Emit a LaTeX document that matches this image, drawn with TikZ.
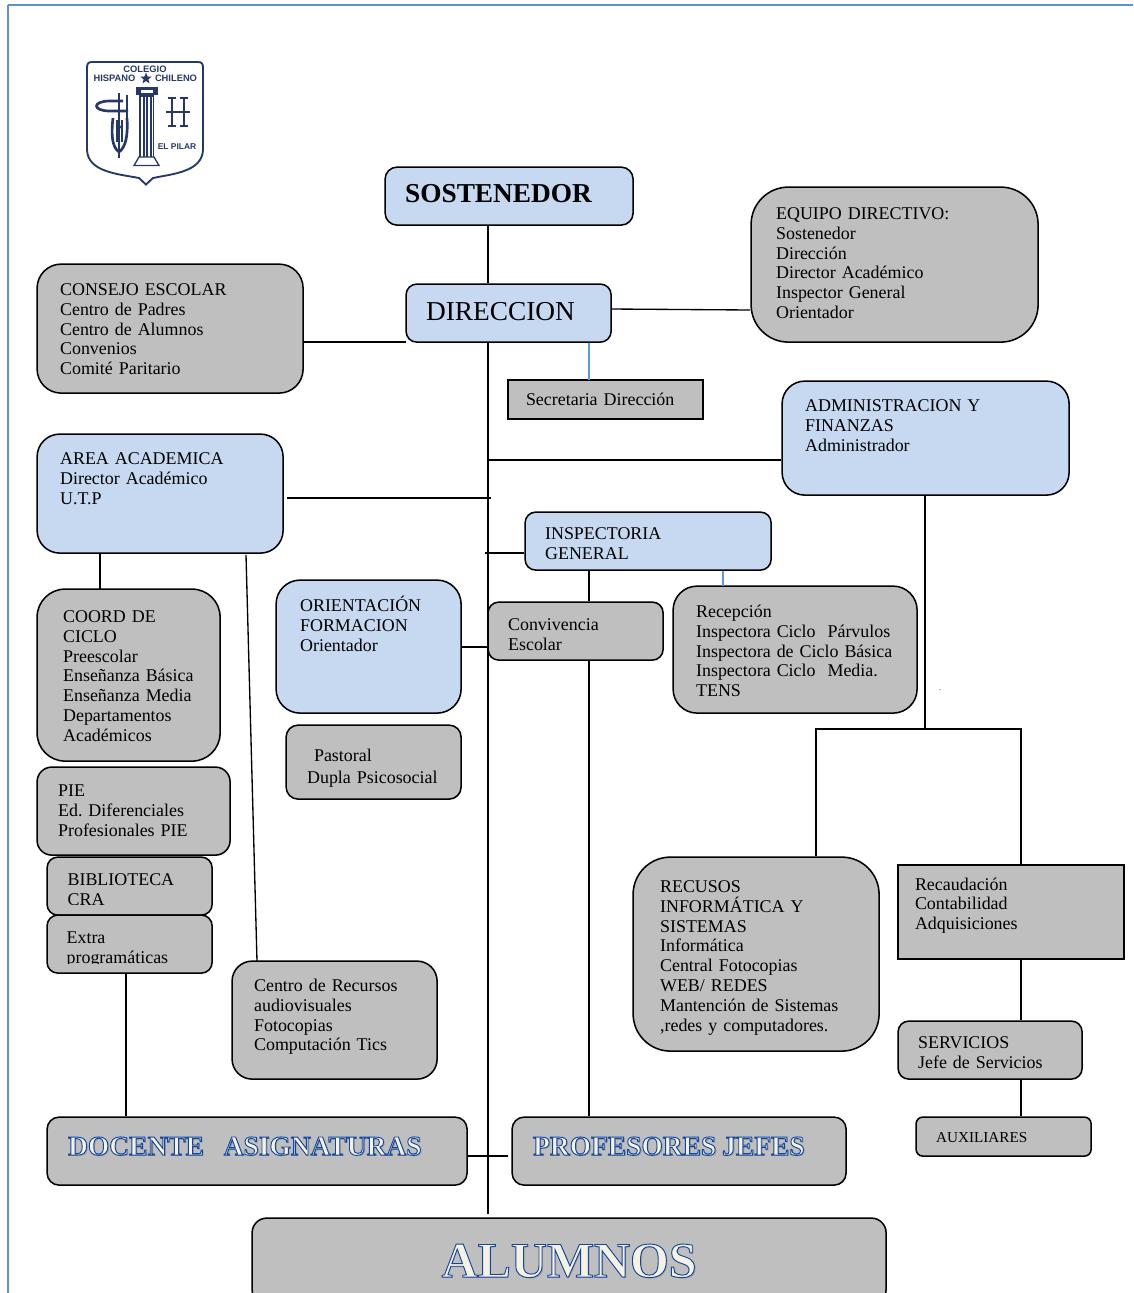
\documentclass[tikz,border=0pt]{standalone}
\usepackage{fontspec}
\setmainfont{Liberation Serif}
\newfontfamily\logofont{Liberation Sans}
\usetikzlibrary{shapes.geometric}
\definecolor{boxblue}{RGB}{198,217,241}
\definecolor{boxgrey}{RGB}{191,191,191}
\definecolor{tiepale}{RGB}{91,155,213}
\definecolor{edgeline}{RGB}{95,145,205}
\definecolor{artfill}{RGB}{245,242,228}
\definecolor{crest}{RGB}{38,56,104}

\tikzset{
  chartbox/.style={draw=black, line width=1.15pt, inner ysep=0pt, align=left, xshift=-0.5pt, yshift=0.5pt, font=\fontsize{13.45}{14.97}\selectfont},
  bluebox/.style={chartbox, fill=boxblue},
  greybox/.style={chartbox, fill=boxgrey},
  cliptext/.style={anchor=north west, inner sep=0pt, align=left, text width=110pt, text height=9pt, xshift=-0.5pt, font=\fontsize{13.45}{14.97}\selectfont},
  crestword/.style={font=\logofont\bfseries\fontsize{7}{8}\selectfont, text=crest, inner sep=0pt},
  tie/.style={line width=1pt, draw=black},
  tiepaler/.style={line width=1pt, draw=tiepale},
  bigword/.style={font=\fontsize{20.5}{24}\selectfont},
  crestline/.style={draw=crest, line width=1pt},
}

% box corners, left edge of the text, first baseline
\newcommand{\orgbox}[9]{%
  \pgfmathsetmacro{\xgap}{(#7-#3)*0.75}
  \pgfmathsetmacro{\widebox}{(#5-#3-2*(#7-#3))*0.75}
  \pgfmathsetmacro{\upperpart}{(#8-#4)*0.75}
  \pgfmathsetmacro{\lowerpart}{(#6-#8)*0.75}
  \node [#1, anchor=north west, inner xsep=\xgap pt, text width=\widebox pt, text height=\upperpart pt, text depth=\lowerpart pt] (#2) at (#3,#4) {#9};
}

% outlined letters with a soft shadow
\newcommand{\artword}[2]{%
  \fontsize{#1}{#1}\selectfont\bfseries
  \rlap{\kern1pt\raisebox{-1pt}{\color{black!38}#2}}%
  {\color{artfill}\special{pdf:code 0.07 0.27 0.62 RG 0.7 w 2 Tr}#2\special{pdf:code 0 Tr}}%
}

\begin{document}
\begin{tikzpicture}[x=0.75pt,y=0.75pt,yscale=-1,xscale=1]
\useasboundingbox (0,0) rectangle (1133,1293);

%page edges
\coordinate (edgecorner) at (8,5);
\coordinate (edgeright) at (1133,5);
\coordinate (edgefoot) at (8,1293);
\draw [edgeline, line width=0.8pt] (edgecorner) -- (edgeright);
\draw [edgeline, line width=1.3pt] (edgefoot) -- (edgecorner);

%crest
\draw [crestline, line width=1.4pt, line join=miter] (146,184.5) -- (139,178) .. controls (118,174) and (88,172) .. (87,150) -- (87,68) .. controls (87,64) and (88,62) .. (92,62) -- (198,62) .. controls (202,62) and (203,64) .. (203,68) -- (203,150) .. controls (202,172) and (172,174) .. (153,178) -- cycle;
\node [crestword] (crestone) at (145,69.5) {COLEGIO};
\node [crestword] (cresttwo) at (114.5,78) {HISPANO};
\node [crestword] (crestthree) at (176,78) {CHILENO};
\node [crestword, font=\logofont\bfseries\fontsize{6.3}{8}\selectfont] (crestfour) at (177,146.5) {EL PILAR};
\node [star, star points=5, star point ratio=2.4, fill=crest, inner sep=0pt, minimum size=9pt] (creststar) at (146,78.5) {};
%column
\fill [crest] (136,87) rectangle (158,95);
\fill [white] (141,89.5) rectangle (153,93);
\fill [crest] (139,95) rectangle (154,157);
\foreach \fl in {142,145.5,149,152.5} \draw [white, line width=0.8pt] (\fl,97) -- (\fl,157);
\draw [crestline] (139,157) -- (134,165.5) -- (159,165.5) -- (154,157) -- cycle;
%big H
\draw [crestline, line width=1.2pt] (172,98) -- (172,126) (184,98) -- (184,126) (166,112) -- (190,112);
\draw [crestline] (168,98) -- (176,98) (180,98) -- (188,98) (168,126) -- (176,126) (180,126) -- (188,126);
%hook and sheaf
\draw [crestline, line width=2pt] (123,101) -- (110,101) .. controls (92,101) and (92,111) .. (110,111) -- (128,111);
\draw [crestline, line width=0.8pt] (119,93) -- (119,158);
\draw [crestline, line width=0.8pt] (127,95) -- (127,120);
\draw [crestline, line width=2pt] (113,118) .. controls (111,135) and (112,147) .. (119,152) .. controls (126,147) and (128,135) .. (127,118);
\draw [crestline, line width=1.4pt] (117,120) -- (117,142) (122,120) -- (122,142);
\fill [crest] (119,127) circle (2);

%boxes
\orgbox{bluebox, rounded corners=9pt, font=\fontsize{20.5}{24}\selectfont\bfseries}{sostenedor}{385}{167}{633}{225}{405}{202}{SOSTENEDOR}
\orgbox{bluebox, rounded corners=8pt, bigword}{direccion}{406}{284}{611}{342}{426}{320}{DIRECCION}
\orgbox{greybox, rounded corners=28pt}{equipo}{751}{187}{1038}{342}{776}{219}{EQUIPO DIRECTIVO:\\Sostenedor\\Dirección\\Director Académico\\Inspector General\\Orientador}
\orgbox{greybox, rounded corners=18pt}{consejo}{37}{264}{303}{393}{60}{295}{CONSEJO ESCOLAR\\Centro de Padres\\Centro de Alumnos\\Convenios\\Comité Paritario}
\orgbox{greybox, line width=1pt}{secretaria}{508}{380}{703}{419}{526}{405}{Secretaria Dirección}
\orgbox{bluebox, rounded corners=17pt}{admin}{782}{381}{1069}{495}{805}{411}{ADMINISTRACION Y\\FINANZAS\\Administrador}
\orgbox{bluebox, rounded corners=17pt}{area}{37}{434}{283}{553}{60}{464}{AREA ACADEMICA\\Director Académico\\U.T.P}
\orgbox{bluebox, rounded corners=8pt}{inspectoria}{525}{512}{771}{570}{545}{539}{INSPECTORIA\\GENERAL}
\orgbox{bluebox, rounded corners=18pt}{orientacion}{276}{580}{461}{713}{300}{611}{ORIENTACIÓN\\FORMACION\\Orientador}
\orgbox{greybox, rounded corners=8pt}{convivencia}{488}{602}{663}{660}{508}{630}{Convivencia\\Escolar}
\orgbox{greybox, rounded corners=18pt}{recepcion}{673}{586}{917}{713}{696}{617}{Recepción\\Inspectora~Ciclo~~Párvulos\\Inspectora~de~Ciclo~Básica\\Inspectora~Ciclo~~Media.\\TENS}
\orgbox{greybox, rounded corners=21pt}{coord}{37}{589}{220}{761}{63}{622}{COORD DE\\CICLO\\Preescolar\\Enseñanza~Básica\\Enseñanza~Media\\Departamentos\\Académicos}
\orgbox{greybox, rounded corners=9pt}{pastoral}{286}{725}{461}{799}{307}{761}{\hspace*{5.2pt}Pastoral\\[1.5pt]Dupla Psicosocial}
\orgbox{greybox, rounded corners=11pt}{pie}{37}{767}{230}{855}{58}{796}{PIE\\Ed.~Diferenciales\\Profesionales PIE}
\orgbox{greybox, rounded corners=8pt}{biblioteca}{47}{857}{212}{915}{68}{885}{}
\orgbox{greybox, rounded corners=8pt}{extra}{47}{915}{212}{973}{67}{943}{}
\begin{scope}
\clip (47,857) rectangle (212,904);
\node [cliptext] (bibliotecatext) at (68,873) {BIBLIOTECA\\CRA};
\end{scope}
\begin{scope}
\clip (47,915) rectangle (212,963);
\node [cliptext] (extratext) at (67,931) {Extra\\programáticas};
\end{scope}
\orgbox{greybox, rounded corners=15pt}{centro}{232}{961}{437}{1079}{254}{991}{Centro de Recursos\\audiovisuales\\Fotocopias\\Computación Tics}
\orgbox{greybox, rounded corners=28pt}{recursos}{633}{857}{879}{1051}{660}{892}{RECUSOS\\INFORMÁTICA Y\\SISTEMAS\\Informática\\Central Fotocopias\\WEB/ REDES\\Mantención de Sistemas\\,redes y computadores.}
\orgbox{greybox, line width=1pt}{recaudacion}{898}{865}{1124}{959}{915}{890}{Recaudación\\Contabilidad\\Adquisiciones}
\orgbox{greybox, rounded corners=8pt}{servicios}{898}{1021}{1082}{1079}{918}{1048}{SERVICIOS\\Jefe de Servicios}
\orgbox{greybox, rounded corners=5pt, font=\fontsize{11.4}{14}\selectfont}{auxiliares}{916}{1117}{1091}{1156}{936}{1142}{AUXILIARES}
\orgbox{greybox, rounded corners=9pt}{docente}{47}{1117}{467}{1185}{68}{1155}{\artword{20.6}{DOCENTE\hspace{0.72em}ASIGNATURAS}}
\orgbox{greybox, rounded corners=9pt}{profesores}{512}{1117}{846}{1185}{533}{1155}{\artword{20.6}{PROFESORES JEFES}}
\orgbox{greybox, rounded corners=11pt, align=center}{alumnos}{252}{1218}{886}{1304}{262}{1277}{\artword{37.4}{ALUMNOS}}

%dot beside the reception box
\node [inner sep=0pt, font=\fontsize{6}{7}\selectfont] (specktext) at (940,690) {.};

%lines
\coordinate (spine) at (488,0);
\coordinate (spineend) at (488,1214);
\coordinate (consejoj) at (406,342);
\coordinate (equipoj) at (750,310);
\coordinate (direccionj) at (611,309);
\coordinate (adminj) at (781,460);
\coordinate (areaj) at (491,498);
\coordinate (inspj) at (485,553);
\coordinate (orientj) at (488,647);
\coordinate (secret) at (589,380);
\coordinate (recep) at (723,586);
\coordinate (slanttop) at (246,555);
\coordinate (slantfoot) at (257,961);
\coordinate (coordj) at (100,589);
\coordinate (extraj) at (126,973);
\coordinate (forkj) at (925,729);
\coordinate (forkl) at (816,729);
\coordinate (forkr) at (1021,729);
\coordinate (docj) at (508,1156);

\draw [tie] (spine |- sostenedor.south) -- (spine |- direccion.north);
\draw [tie] (spine |- direccion.south) -- (spineend);
\draw [tie] (consejo.east |- consejoj) -- (consejoj);
\draw [tie] (direccionj) -- (equipoj);
\draw [tiepaler] (secret |- direccion.south) -- (secret);
\draw [tie] (spine |- adminj) -- (adminj);
\draw [tie] ([xshift=2.25pt]area.east |- areaj) -- (areaj);
\draw [tie] (inspj) -- (inspectoria.west |- inspj);
\draw [tie] (orientacion.east |- orientj) -- (orientj);
\draw [tie] (secret |- inspectoria.south) -- (secret |- convivencia.north);
\draw [tie] (secret |- convivencia.south) -- (secret |- profesores.north);
\draw [tiepaler] (recep |- inspectoria.south) -- (recep);
\draw [tie] (coordj |- area.south) -- (coordj);
\draw [tie] (slanttop) -- (slantfoot);
\draw [tie] (extraj) -- (extraj |- docente.north);
\draw [tie] (forkj |- admin.south) -- (forkj);
\draw [tie] (forkl |- recursos.north) -- (forkl) -- (forkr) -- (forkr |- recaudacion.north);
\draw [tie] (forkr |- recaudacion.south) -- (forkr |- servicios.north);
\draw [tie] (forkr |- servicios.south) -- (forkr |- auxiliares.north);
\draw [tie] (docente.east |- docj) -- (docj);

\end{tikzpicture}
\end{document}
